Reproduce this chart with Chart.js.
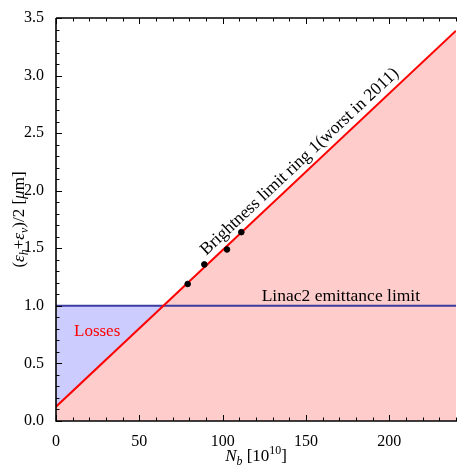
<!DOCTYPE html>
<html><head><meta charset="utf-8">
<script src="https://cdn.jsdelivr.net/npm/chart.js@4/dist/chart.umd.min.js"></script>
<style>html,body{margin:0;padding:0;background:#fff}#wrap{width:457px;height:466px;position:relative}</style>
</head><body><div id="wrap"><canvas id="c" width="457" height="466"></canvas></div>
<script>
// ---- data ----
const xTickValues = [0, 50, 100, 150, 200];
const yTickValues = [0, 0.5, 1, 1.5, 2, 2.5, 3, 3.5];
const xRange = [0, 240];
const yRange = [0, 3.5];
const brightnessX = [0, 240];
const brightnessY = [0.124, 3.39];
const linacX = [0, 240];
const linacY = [1, 1];
const measuredX = [79, 89, 102.6, 111.2];
const measuredY = [1.19, 1.36, 1.49, 1.64];

const SERIF = '"Liberation Serif", "Times New Roman", serif';
const toPts = (xs, ys) => xs.map((x, i) => ({x, y: ys[i]}));

function drawRich(ctx, segs, x, y, angle, size) {
  ctx.save();
  ctx.translate(x, y);
  ctx.rotate(angle);
  ctx.textBaseline = 'alphabetic';
  ctx.textAlign = 'left';
  let total = 0;
  const widths = segs.map(s => {
    const fs = size * (s.scale || 1);
    ctx.font = (s.italic ? 'italic ' : '') + fs + 'px ' + SERIF;
    const w = ctx.measureText(s.t).width;
    total += w;
    return w;
  });
  let cx = -total / 2;
  segs.forEach((s, i) => {
    const fs = size * (s.scale || 1);
    ctx.font = (s.italic ? 'italic ' : '') + fs + 'px ' + SERIF;
    ctx.fillStyle = '#000';
    ctx.fillText(s.t, cx, (s.shift || 0) * size);
    cx += widths[i];
  });
  ctx.restore();
}

const framePlugin = {
  id: 'frame',
  afterDatasetsDraw(chart) {
    const {ctx, chartArea: a, scales: {x, y}} = chart;
    ctx.save();
    ctx.strokeStyle = '#000';
    ctx.lineWidth = 1;
    ctx.beginPath();
    for (let k = 0; k <= 24; k++) {
      const v = k * 10;
      const px = Math.round(x.getPixelForValue(v)) + 0.5;
      const major = xTickValues.includes(v);
      const L = major ? 6 : 3.5;
      ctx.moveTo(px, a.bottom); ctx.lineTo(px, a.bottom - L);
      ctx.moveTo(px, a.top); ctx.lineTo(px, a.top + L);
    }
    for (let k = 0; k <= 35; k++) {
      const v = k / 10;
      const py = Math.round(y.getPixelForValue(v)) + 0.5;
      const major = k % 5 === 0;
      const L = major ? 6 : 3.5;
      ctx.moveTo(a.left, py); ctx.lineTo(a.left + L, py);
    }
    ctx.stroke();
    ctx.lineWidth = 1.6;
    ctx.beginPath();
    ctx.moveTo(a.left, a.top); ctx.lineTo(a.right + 2, a.top);
    ctx.moveTo(a.left, a.top); ctx.lineTo(a.left, a.bottom);
    ctx.lineTo(a.right + 2, a.bottom);
    ctx.stroke();
    ctx.restore();

    // annotations
    ctx.save();
    const ax = 151;
    const ay = brightnessY[0] + (brightnessY[1] - brightnessY[0]) * (ax - brightnessX[0]) / (brightnessX[1] - brightnessX[0]);
    const p0x = x.getPixelForValue(brightnessX[0]), p0y = y.getPixelForValue(brightnessY[0]);
    const p1x = x.getPixelForValue(brightnessX[1]), p1y = y.getPixelForValue(brightnessY[1]);
    const ang = Math.atan2(p1y - p0y, p1x - p0x);
    ctx.translate(x.getPixelForValue(ax), y.getPixelForValue(ay));
    ctx.rotate(ang);
    ctx.font = '17.5px ' + SERIF;
    ctx.fillStyle = '#000';
    ctx.textAlign = 'center';
    ctx.textBaseline = 'alphabetic';
    ctx.fillText('Brightness limit ring 1(worst in 2011)', 0, -7);
    ctx.restore();

    ctx.save();
    ctx.font = '17.5px ' + SERIF;
    ctx.fillStyle = '#000';
    ctx.textAlign = 'left';
    ctx.textBaseline = 'alphabetic';
    ctx.fillText('Linac2 emittance limit', x.getPixelForValue(123.4), y.getPixelForValue(1) - 5);
    ctx.font = '17px ' + SERIF;
    ctx.fillStyle = '#ff0000';
    ctx.fillText('Losses', x.getPixelForValue(10.8), y.getPixelForValue(0.74));
    ctx.restore();

    const ymid = (a.top + a.bottom) / 2;
    drawRich(ctx, [
      {t: '('}, {t: 'ε', italic: true}, {t: 'h', italic: true, scale: 0.7, shift: 0.22},
      {t: '+'}, {t: 'ε', italic: true}, {t: 'v', italic: true, scale: 0.7, shift: 0.22},
      {t: ')/2 ['}, {t: 'μ', italic: true}, {t: 'm]'}
    ], 24, ymid, -Math.PI / 2, 17);
    const xmid = (a.left + a.right) / 2;
    drawRich(ctx, [
      {t: 'N', italic: true}, {t: 'b', italic: true, scale: 0.7, shift: 0.22},
      {t: ' [10'}, {t: '10', scale: 0.7, shift: -0.42}, {t: ']'}
    ], xmid, 461, 0, 17);
  }
};

new Chart(document.getElementById('c'), {
  type: 'line',
  data: {
    datasets: [
      {
        label: 'Brightness limit',
        data: toPts(brightnessX, brightnessY),
        borderColor: '#ff0000',
        borderWidth: 2,
        backgroundColor: '#ffcccc',
        fill: 'origin',
        pointRadius: 0,
        order: 1
      },
      {
        label: 'Linac2 emittance limit',
        data: toPts(linacX, linacY),
        borderColor: '#3c3ca0',
        borderWidth: 2,
        fill: {target: 0, above: '#ccccff', below: 'rgba(0,0,0,0)'},
        pointRadius: 0,
        order: 2
      },
      {
        label: 'Measured',
        type: 'scatter',
        data: toPts(measuredX, measuredY),
        backgroundColor: '#000',
        borderColor: '#000',
        pointRadius: 2.8,
        showLine: false,
        order: 0
      }
    ]
  },
  options: {
    responsive: false,
    animation: false,
    devicePixelRatio: 1,
    layout: {autoPadding: false, padding: {top: 18, right: 1, left: 0, bottom: 0}},
    plugins: {
      legend: {display: false},
      tooltip: {enabled: false},
      filler: {drawTime: 'beforeDatasetsDraw'}
    },
    scales: {
      x: {
        type: 'linear',
        min: xRange[0], max: xRange[1],
        grid: {display: false},
        border: {display: false},
        afterBuildTicks: s => { s.ticks = xTickValues.map(v => ({value: v})); },
        afterFit: s => { s.height = 45; },
        ticks: {
          padding: 3,
          color: '#000',
          font: {family: SERIF, size: 16},
          maxRotation: 0,
          callback: v => String(v)
        }
      },
      y: {
        type: 'linear',
        min: yRange[0], max: yRange[1],
        grid: {display: false},
        border: {display: false},
        afterBuildTicks: s => { s.ticks = yTickValues.map(v => ({value: v})); },
        afterFit: s => { s.width = 56; },
        ticks: {
          padding: 4,
          color: '#000',
          font: {family: SERIF, size: 16},
          callback: v => Number(v).toFixed(1)
        }
      }
    }
  },
  plugins: [framePlugin]
});
</script>
</body></html>
